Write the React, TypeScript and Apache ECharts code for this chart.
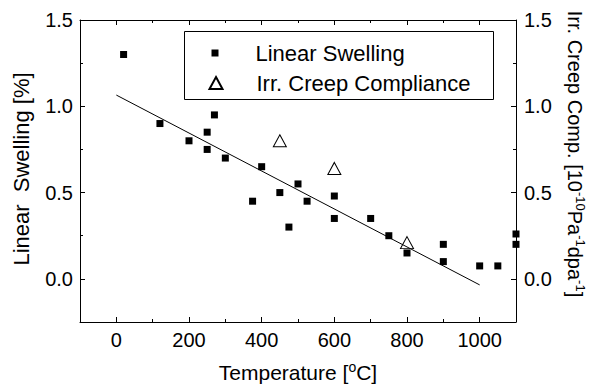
import React, { useEffect, useRef } from 'react';
import * as echarts from 'echarts';

const swellingTemperature = [20, 120, 200, 250, 250, 270, 300, 375, 400, 450, 475, 500, 525, 600, 600, 700, 750, 800, 900, 900, 1000, 1050, 1100, 1100];
const swellingValue = [1.3, 0.9, 0.8, 0.85, 0.75, 0.95, 0.7, 0.45, 0.65, 0.5, 0.3, 0.55, 0.45, 0.48, 0.35, 0.35, 0.25, 0.15, 0.2, 0.1, 0.075, 0.075, 0.26, 0.2];
const creepTemperature = [450, 600, 800];
const creepValue = [0.8, 0.64, 0.21];
const fitTemperature = [0, 1000];
const fitValue = [1.065, -0.035];
const xTickValues = [0, 200, 400, 600, 800, 1000];
const xMinorTickValues = [100, 300, 500, 700, 900];
const yTickValues = [0, 0.5, 1.0, 1.5];
const yMinorTickValues = [0.25, 0.75, 1.25];

const FONT = '"Liberation Sans", Arial, Helvetica, sans-serif';

export default function App() {
  const ref = useRef<HTMLDivElement>(null);
  useEffect(() => {
    document.body.style.margin = '0';
    const chart = echarts.init(ref.current!, null, { renderer: 'svg' });
    const line = { show: true, onZero: false, lineStyle: { color: '#000', width: 1 } };
    const noLine = { show: false, onZero: false };
    const labelStyle = { color: '#000', fontSize: 20, fontFamily: FONT };
    const xBase = { type: 'value', min: -100, max: 1100, splitLine: { show: false } };
    const yBase = { type: 'value', min: -0.25, max: 1.5, splitLine: { show: false } };
    const tick = (len: number, values: number[]) => ({
      show: true, inside: true, length: len, customValues: values, lineStyle: { color: '#000', width: 1 },
    });
    const option: any = {
      animation: false,
      grid: { left: 80, right: 75, top: 20, bottom: 64 },
      xAxis: [
        { ...xBase, position: 'bottom', axisLine: line, axisTick: tick(5, xTickValues),
          axisLabel: { ...labelStyle, customValues: xTickValues, margin: 8, formatter: (v: number) => String(v) } },
        { ...xBase, position: 'top', axisLine: line, axisTick: tick(5, xTickValues), axisLabel: { show: false } },
        { ...xBase, position: 'bottom', axisLine: noLine, axisTick: tick(3, xMinorTickValues), axisLabel: { show: false } },
        { ...xBase, position: 'top', axisLine: noLine, axisTick: tick(3, xMinorTickValues), axisLabel: { show: false } },
      ],
      yAxis: [
        { ...yBase, position: 'left', axisLine: line, axisTick: tick(5, yTickValues),
          axisLabel: { ...labelStyle, customValues: yTickValues, margin: 7, formatter: (v: number) => v.toFixed(1) } },
        { ...yBase, position: 'right', axisLine: line, axisTick: tick(5, yTickValues),
          axisLabel: { ...labelStyle, customValues: yTickValues, margin: 8, formatter: (v: number) => v.toFixed(1) } },
        { ...yBase, position: 'left', axisLine: noLine, axisTick: tick(3, yMinorTickValues), axisLabel: { show: false } },
        { ...yBase, position: 'right', axisLine: noLine, axisTick: tick(3, yMinorTickValues), axisLabel: { show: false } },
      ],
      legend: [
        { data: ['Linear Swelling'], left: 211.5, top: 42, padding: 0, itemWidth: 7, itemHeight: 7,
          selectedMode: false,
          textStyle: { color: '#000', fontSize: 22, fontFamily: FONT, padding: [0, 0, 0, 32] } },
        { data: ['Irr. Creep Compliance'], left: 208.5, top: 72, padding: 0, itemWidth: 13, itemHeight: 12,
          selectedMode: false,
          textStyle: { color: '#000', fontSize: 22, fontFamily: FONT, padding: [0, 0, 0, 29] } },
      ],
      graphic: [
        { type: 'rect', silent: true, shape: { x: 184.5, y: 31.5, width: 309, height: 68 },
          style: { fill: 'none', stroke: '#000', lineWidth: 1 } },
        { type: 'text', x: 21.5, y: 169, rotation: Math.PI / 2,
          style: { text: 'Linear  Swelling [%]', fontSize: 22, fontFamily: FONT, fill: '#000', align: 'center', verticalAlign: 'middle' } },
        { type: 'text', x: 298, y: 372,
          style: { text: '{n|Temperature [}{s|o}{n|C]}', align: 'center', verticalAlign: 'middle', fill: '#000',
            rich: { n: { fontSize: 21, fontFamily: FONT, lineHeight: 24, fill: '#000' },
                    s: { fontSize: 14, fontFamily: FONT, lineHeight: 24, verticalAlign: 'top', fill: '#000' } } } },
        { type: 'text', x: 574.5, y: 154, rotation: -Math.PI / 2,
          style: { text: '{n|Irr. Creep Comp. [10}{s|-10}{n|Pa}{s|-1}{n|dpa}{s|-1}{n|]}', align: 'center', verticalAlign: 'middle', fill: '#000',
            rich: { n: { fontSize: 20, fontFamily: FONT, lineHeight: 24, fill: '#000' },
                    s: { fontSize: 13, fontFamily: FONT, lineHeight: 24, verticalAlign: 'top', fill: '#000' } } } },
      ],
      series: [
        { name: 'fit', type: 'line', xAxisIndex: 0, yAxisIndex: 0, symbol: 'none', silent: true,
          lineStyle: { color: '#000', width: 1 },
          data: fitTemperature.map((t, i) => [t, fitValue[i]]) },
        { name: 'Linear Swelling', type: 'scatter', xAxisIndex: 0, yAxisIndex: 0, symbol: 'rect', symbolSize: 7,
          itemStyle: { color: '#000', opacity: 1 },
          data: swellingTemperature.map((t, i) => [t, swellingValue[i]]) },
        { name: 'Irr. Creep Compliance', type: 'scatter', xAxisIndex: 0, yAxisIndex: 1, symbol: 'triangle', symbolSize: [13, 12],
          itemStyle: { color: '#fff', borderColor: '#000', borderWidth: 1, opacity: 1 },
          data: creepTemperature.map((t, i) => [t, creepValue[i]]) },
      ],
    };
    chart.setOption(option);
    return () => chart.dispose();
  }, []);
  return <div ref={ref} style={{ width: 591, height: 386 }} />;
}
